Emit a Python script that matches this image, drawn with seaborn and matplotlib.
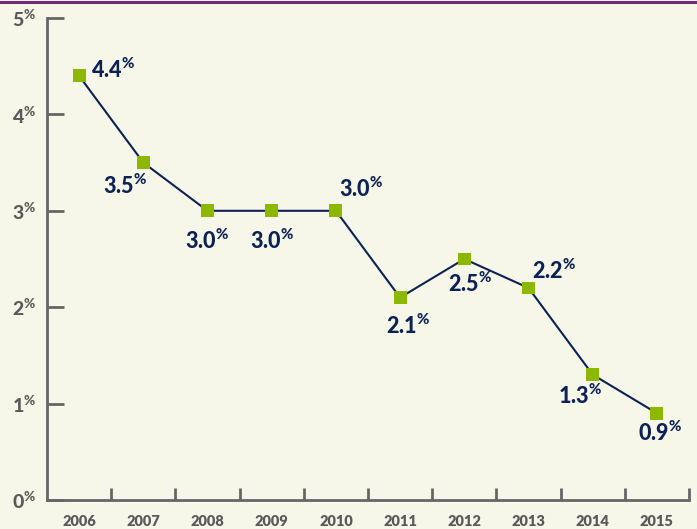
import matplotlib
matplotlib.use("Agg")
import matplotlib.pyplot as plt
import seaborn as sns
import pandas as pd
from matplotlib.lines import Line2D

years = ["2006", "2007", "2008", "2009", "2010", "2011", "2012", "2013", "2014", "2015"]
values = [4.4, 3.5, 3.0, 3.0, 3.0, 2.1, 2.5, 2.2, 1.3, 0.9]
value_labels = ["4.4", "3.5", "3.0", "3.0", "3.0", "2.1", "2.5", "2.2", "1.3", "0.9"]
y_ticks = [0, 1, 2, 3, 4, 5]

# label offsets in pixels (dx, dy) relative to marker, screen coords (y up)
offsets = [(34, 6), (-18, -23), (0, -30), (0, -30), (25, 22), (8, -28), (6, -25), (26, 17), (-13, -21), (3, -20)]

BG = "#F7F7E9"
NAVY = "#0C2256"
GREEN = "#8DB800"
GREY = "#666666"
TXT = "#5A5A5A"

sns.set_theme(style="white")
plt.rcParams["font.family"] = ["Lato", "DejaVu Sans"]
plt.rcParams["mathtext.fontset"] = "custom"
plt.rcParams["mathtext.rm"] = "Lato:black"
plt.rcParams["mathtext.it"] = "Lato:black"
plt.rcParams["mathtext.bf"] = "Lato:black"
plt.rcParams["mathtext.sf"] = "Lato:black"
plt.rcParams["mathtext.default"] = "rm"

df = pd.DataFrame({"x": range(len(years)), "year": years, "value": values})

fig = plt.figure(figsize=(6.97, 5.29), dpi=100)
fig.patch.set_facecolor(BG)
ax = fig.add_axes([47 / 697, 29 / 529, 642 / 697, 482 / 529])
ax.set_facecolor(BG)

sns.lineplot(data=df, x="x", y="value", color=NAVY, linewidth=1.5, ax=ax, zorder=2)
sns.scatterplot(data=df, x="x", y="value", color=GREEN, marker="s", s=85, edgecolor="none", ax=ax, zorder=3)

ax.set_xlim(-0.5, len(years) - 0.5)
ax.set_ylim(0, 5)
ax.set_xlabel("")
ax.set_ylabel("")

for s in ["top", "right"]:
    ax.spines[s].set_visible(False)
for s in ["left", "bottom"]:
    ax.spines[s].set_color(GREY)
    ax.spines[s].set_linewidth(2)

ax.set_yticks(y_ticks)
ax.set_yticklabels([r"$%d^{\%%}$" % t for t in y_ticks], fontsize=14, color=TXT)
ax.tick_params(axis="y", direction="in", length=12, width=2, color=GREY, pad=8, left=True)

ax.set_xticks(range(len(years)))
ax.set_xticklabels(years, fontsize=10.5, fontweight="heavy", color=TXT)
ax.tick_params(axis="x", which="major", length=0, pad=11)
ax.set_xticks([i + 0.5 for i in range(len(years))], minor=True)
ax.tick_params(axis="x", which="minor", direction="in", length=9, width=2, color=GREY, bottom=True)

for i, (v, lab) in enumerate(zip(values, value_labels)):
    dx, dy = offsets[i]
    ax.annotate(r"$%s^{\%%}$" % lab, (i, v), xytext=(dx * 0.72, dy * 0.72),
                textcoords="offset points", ha="center", va="center",
                fontsize=15.5, color=NAVY)

fig.add_artist(Line2D([0, 1], [1 - 1.5 / 529, 1 - 1.5 / 529], transform=fig.transFigure,
                      color="#6D2B78", linewidth=2.2))

fig.savefig("out.png", dpi=100, facecolor=BG)
